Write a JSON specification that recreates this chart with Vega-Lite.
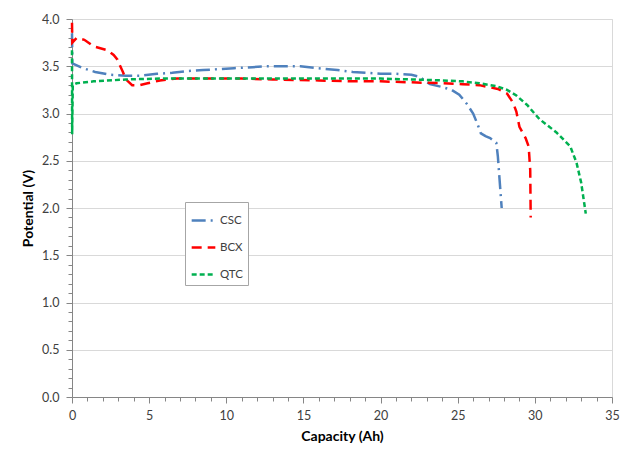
{
  "$schema": "https://vega.github.io/schema/vega-lite/v6.json",
  "width": 540,
  "height": 378,
  "autosize": {"type": "none"},
  "padding": {"left": 72, "top": 19, "right": 14, "bottom": 60},
  "background": "white",
  "config": {
    "font": "Lato",
    "view": {"stroke": "#D9D9D9", "strokeWidth": 1},
    "legend": {
      "orient": "none",
      "legendX": 113,
      "legendY": 183,
      "symbolType": "stroke",
      "symbolSize": 560,
      "symbolStrokeWidth": 2.5,
      "labelFont": "Lato",
      "labelFontSize": 11.5,
      "labelColor": "#404040",
      "labelOffset": 3,
      "rowPadding": 8,
      "padding": 5,
      "strokeColor": "#A6A6A6",
      "fillColor": "white"
    }
  },
  "data": {
    "values": [
      {"series": "CSC", "order": 0, "capacity": 0, "potential": 3.85},
      {"series": "CSC", "order": 1, "capacity": 0.02, "potential": 3.53},
      {"series": "CSC", "order": 2, "capacity": 0.7, "potential": 3.48},
      {"series": "CSC", "order": 3, "capacity": 1.5, "potential": 3.44},
      {"series": "CSC", "order": 4, "capacity": 2.5, "potential": 3.41},
      {"series": "CSC", "order": 5, "capacity": 3.5, "potential": 3.40},
      {"series": "CSC", "order": 6, "capacity": 4.5, "potential": 3.40},
      {"series": "CSC", "order": 7, "capacity": 5.5, "potential": 3.42},
      {"series": "CSC", "order": 8, "capacity": 6.5, "potential": 3.43},
      {"series": "CSC", "order": 9, "capacity": 7.5, "potential": 3.45},
      {"series": "CSC", "order": 10, "capacity": 8.5, "potential": 3.46},
      {"series": "CSC", "order": 11, "capacity": 9.6, "potential": 3.47},
      {"series": "CSC", "order": 12, "capacity": 10.5, "potential": 3.48},
      {"series": "CSC", "order": 13, "capacity": 11.7, "potential": 3.49},
      {"series": "CSC", "order": 14, "capacity": 12.6, "potential": 3.50},
      {"series": "CSC", "order": 15, "capacity": 13.5, "potential": 3.50},
      {"series": "CSC", "order": 16, "capacity": 14.8, "potential": 3.50},
      {"series": "CSC", "order": 17, "capacity": 15.9, "potential": 3.48},
      {"series": "CSC", "order": 18, "capacity": 17.2, "potential": 3.46},
      {"series": "CSC", "order": 19, "capacity": 18.2, "potential": 3.44},
      {"series": "CSC", "order": 20, "capacity": 19.2, "potential": 3.43},
      {"series": "CSC", "order": 21, "capacity": 20, "potential": 3.42},
      {"series": "CSC", "order": 22, "capacity": 21, "potential": 3.42},
      {"series": "CSC", "order": 23, "capacity": 22, "potential": 3.41},
      {"series": "CSC", "order": 24, "capacity": 22.5, "potential": 3.39},
      {"series": "CSC", "order": 25, "capacity": 23.2, "potential": 3.31},
      {"series": "CSC", "order": 26, "capacity": 24, "potential": 3.28},
      {"series": "CSC", "order": 27, "capacity": 24.6, "potential": 3.25},
      {"series": "CSC", "order": 28, "capacity": 25.1, "potential": 3.20},
      {"series": "CSC", "order": 29, "capacity": 25.6, "potential": 3.10},
      {"series": "CSC", "order": 30, "capacity": 26.0, "potential": 3.00},
      {"series": "CSC", "order": 31, "capacity": 26.3, "potential": 2.88},
      {"series": "CSC", "order": 32, "capacity": 26.5, "potential": 2.79},
      {"series": "CSC", "order": 33, "capacity": 26.8, "potential": 2.76},
      {"series": "CSC", "order": 34, "capacity": 27.1, "potential": 2.74},
      {"series": "CSC", "order": 35, "capacity": 27.5, "potential": 2.69},
      {"series": "CSC", "order": 36, "capacity": 27.6, "potential": 2.55},
      {"series": "CSC", "order": 37, "capacity": 27.7, "potential": 2.33},
      {"series": "CSC", "order": 38, "capacity": 27.85, "potential": 2.0},
      {"series": "BCX", "order": 0, "capacity": 0, "potential": 3.96},
      {"series": "BCX", "order": 1, "capacity": 0.02, "potential": 3.75},
      {"series": "BCX", "order": 2, "capacity": 0.3, "potential": 3.80},
      {"series": "BCX", "order": 3, "capacity": 0.8, "potential": 3.78},
      {"series": "BCX", "order": 4, "capacity": 1.4, "potential": 3.71},
      {"series": "BCX", "order": 5, "capacity": 2.3, "potential": 3.67},
      {"series": "BCX", "order": 6, "capacity": 2.7, "potential": 3.62},
      {"series": "BCX", "order": 7, "capacity": 2.95, "potential": 3.57},
      {"series": "BCX", "order": 8, "capacity": 3.1, "potential": 3.51},
      {"series": "BCX", "order": 9, "capacity": 3.3, "potential": 3.44},
      {"series": "BCX", "order": 10, "capacity": 3.5, "potential": 3.36},
      {"series": "BCX", "order": 11, "capacity": 3.9, "potential": 3.30},
      {"series": "BCX", "order": 12, "capacity": 4.4, "potential": 3.30},
      {"series": "BCX", "order": 13, "capacity": 4.9, "potential": 3.32},
      {"series": "BCX", "order": 14, "capacity": 5.7, "potential": 3.35},
      {"series": "BCX", "order": 15, "capacity": 6.8, "potential": 3.37},
      {"series": "BCX", "order": 16, "capacity": 8, "potential": 3.37},
      {"series": "BCX", "order": 17, "capacity": 11, "potential": 3.37},
      {"series": "BCX", "order": 18, "capacity": 13, "potential": 3.36},
      {"series": "BCX", "order": 19, "capacity": 16, "potential": 3.35},
      {"series": "BCX", "order": 20, "capacity": 18, "potential": 3.34},
      {"series": "BCX", "order": 21, "capacity": 20, "potential": 3.34},
      {"series": "BCX", "order": 22, "capacity": 22, "potential": 3.33},
      {"series": "BCX", "order": 23, "capacity": 24, "potential": 3.32},
      {"series": "BCX", "order": 24, "capacity": 25.3, "potential": 3.31},
      {"series": "BCX", "order": 25, "capacity": 26.4, "potential": 3.30},
      {"series": "BCX", "order": 26, "capacity": 27.6, "potential": 3.26},
      {"series": "BCX", "order": 27, "capacity": 28.2, "potential": 3.21},
      {"series": "BCX", "order": 28, "capacity": 28.6, "potential": 3.11},
      {"series": "BCX", "order": 29, "capacity": 28.8, "potential": 3.02},
      {"series": "BCX", "order": 30, "capacity": 29.0, "potential": 2.86},
      {"series": "BCX", "order": 31, "capacity": 29.4, "potential": 2.74},
      {"series": "BCX", "order": 32, "capacity": 29.6, "potential": 2.65},
      {"series": "BCX", "order": 33, "capacity": 29.7, "potential": 2.40},
      {"series": "BCX", "order": 34, "capacity": 29.73, "potential": 1.9},
      {"series": "QTC", "order": 0, "capacity": 0, "potential": 3.67},
      {"series": "QTC", "order": 1, "capacity": 0.01, "potential": 2.78},
      {"series": "QTC", "order": 2, "capacity": 0.05, "potential": 3.30},
      {"series": "QTC", "order": 3, "capacity": 0.3, "potential": 3.32},
      {"series": "QTC", "order": 4, "capacity": 1.4, "potential": 3.34},
      {"series": "QTC", "order": 5, "capacity": 3.5, "potential": 3.36},
      {"series": "QTC", "order": 6, "capacity": 5.7, "potential": 3.37},
      {"series": "QTC", "order": 7, "capacity": 10, "potential": 3.37},
      {"series": "QTC", "order": 8, "capacity": 15, "potential": 3.37},
      {"series": "QTC", "order": 9, "capacity": 20, "potential": 3.37},
      {"series": "QTC", "order": 10, "capacity": 22, "potential": 3.36},
      {"series": "QTC", "order": 11, "capacity": 24, "potential": 3.35},
      {"series": "QTC", "order": 12, "capacity": 25.3, "potential": 3.34},
      {"series": "QTC", "order": 13, "capacity": 26.4, "potential": 3.32},
      {"series": "QTC", "order": 14, "capacity": 27.5, "potential": 3.29},
      {"series": "QTC", "order": 15, "capacity": 28.2, "potential": 3.25},
      {"series": "QTC", "order": 16, "capacity": 28.8, "potential": 3.19},
      {"series": "QTC", "order": 17, "capacity": 29.5, "potential": 3.09},
      {"series": "QTC", "order": 18, "capacity": 30.3, "potential": 2.94},
      {"series": "QTC", "order": 19, "capacity": 31.4, "potential": 2.80},
      {"series": "QTC", "order": 20, "capacity": 32.3, "potential": 2.65},
      {"series": "QTC", "order": 21, "capacity": 32.7, "potential": 2.48},
      {"series": "QTC", "order": 22, "capacity": 33.0, "potential": 2.27},
      {"series": "QTC", "order": 23, "capacity": 33.3, "potential": 1.94}
    ]
  },
  "mark": {"type": "line", "strokeWidth": 2.5, "strokeCap": "butt"},
  "encoding": {
    "x": {
      "field": "capacity",
      "type": "quantitative",
      "scale": {"domain": [0, 35], "nice": false},
      "axis": {
        "title": "Capacity (Ah)",
        "titleFont": "Lato",
        "titleFontSize": 14,
        "titleFontWeight": "bold",
        "titleColor": "#000000",
        "titlePadding": 8,
        "values": [0,1,2,3,4,5,6,7,8,9,10,11,12,13,14,15,16,17,18,19,20,21,22,23,24,25,26,27,28,29,30,31,32,33,34,35],
        "labelExpr": "datum.value % 5 === 0 ? format(datum.value, 'd') : ''",
        "labelOverlap": false,
        "labelFlush": false,
        "labelFontSize": 12.5,
        "labelColor": "#404040",
        "labelPadding": 6,
        "grid": false,
        "domainColor": "#868686",
        "tickColor": "#868686",
        "tickSize": {"condition": {"test": "datum.value % 5 === 0", "value": 6}, "value": 4}
      }
    },
    "y": {
      "field": "potential",
      "type": "quantitative",
      "scale": {"domain": [0, 4], "nice": false},
      "axis": {
        "title": "Potential (V)",
        "titleFont": "Lato",
        "titleFontSize": 14,
        "titleFontWeight": "bold",
        "titleColor": "#000000",
        "titlePadding": 6,
        "values": [0,0.1,0.2,0.3,0.4,0.5,0.6,0.7,0.8,0.9,1,1.1,1.2,1.3,1.4,1.5,1.6,1.7,1.8,1.9,2,2.1,2.2,2.3,2.4,2.5,2.6,2.7,2.8,2.9,3,3.1,3.2,3.3,3.4,3.5,3.6,3.7,3.8,3.9,4],
        "labelExpr": "round(datum.value * 10) % 5 === 0 ? format(datum.value, '.1f') : ''",
        "labelOverlap": false,
        "labelFlush": false,
        "labelFontSize": 12.5,
        "labelColor": "#404040",
        "labelPadding": 7,
        "grid": true,
        "gridColor": "#D9D9D9",
        "gridOpacity": {"condition": {"test": "round(datum.value * 10) % 5 === 0", "value": 1}, "value": 0},
        "domainColor": "#868686",
        "tickColor": "#868686",
        "tickSize": {"condition": {"test": "round(datum.value * 10) % 5 === 0", "value": 6}, "value": 4}
      }
    },
    "color": {
      "field": "series",
      "type": "nominal",
      "title": null,
      "scale": {"domain": ["CSC", "BCX", "QTC"], "range": ["#4F81BD", "#FF0000", "#00B050"]}
    },
    "strokeDash": {
      "field": "series",
      "type": "nominal",
      "title": null,
      "scale": {"domain": ["CSC", "BCX", "QTC"], "range": [[14, 5, 2, 5], [10, 6], [5, 3]]}
    },
    "order": {"field": "order", "type": "quantitative"}
  }
}
